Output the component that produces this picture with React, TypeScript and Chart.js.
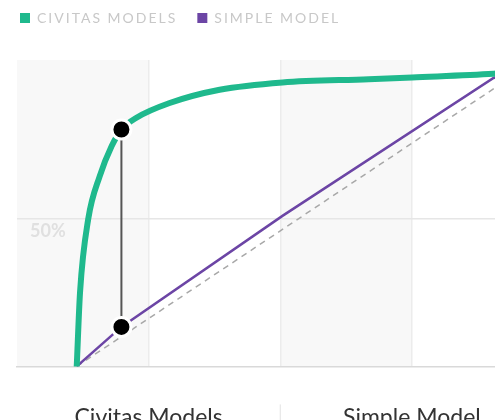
import React, { useEffect, useRef } from 'react';
import { Chart, registerables } from 'chart.js';

Chart.register(...registerables);

// ---- data ----
const SERIES_NAMES = ['Civitas Models', 'Simple Model'];
const LEGEND_LABELS = ['CIVITAS MODELS', 'SIMPLE MODEL'];
const BOTTOM_LABELS = ['Civitas Models', 'Simple Model'];

const CIVITAS_X = [0, 0.0075, 0.026, 0.052, 0.079, 0.101, 0.135, 0.21, 0.323, 0.465, 0.66, 0.758, 0.942, 1];
const CIVITAS_Y = [0, 0.252, 0.5, 0.646, 0.748, 0.804, 0.844, 0.894, 0.939, 0.964, 0.975, 0.981, 0.993, 1];

const SIMPLE_X = [0, 0.101, 0.465, 0.942, 1];
const SIMPLE_Y = [0, 0.134, 0.511, 0.979, 1];

const BASELINE_X = [0, 1];
const BASELINE_Y = [0, 1];

const MARKER_X = [0.101, 0.101];
const MARKER_Y = [0.134, 0.804];

const Y_TICKS = [0.5];
const Y_TICK_LABELS = ['50%'];
const X_GRID = [0.163, 0.46, 0.757];
const X_MIN = -0.135;
const X_MAX = 1.055;
const Y_MIN = 0;
const Y_MAX = 1.04;

// ---- styles ----
const GREEN = '#1fb98d';
const PURPLE = '#6c45a5';
const LEGEND_SPACING = '2px';
const LEGEND_EXTRA = 25;

const zip = (xs: number[], ys: number[]) => xs.map((x, i) => ({ x, y: ys[i] }));

const chromePlugin = {
  id: 'chrome',
  beforeInit(chart: any) {
    const legend = chart.legend;
    if (legend) {
      const fit = legend.fit;
      legend.fit = function (...a: any[]) {
        const prev = this.ctx.letterSpacing;
        this.ctx.letterSpacing = LEGEND_SPACING;
        fit.apply(this, a);
        this.ctx.letterSpacing = prev || '0px';
        this.height += LEGEND_EXTRA;
      };
      const draw = legend.draw;
      legend.draw = function (...a: any[]) {
        const prev = this.ctx.letterSpacing;
        this.ctx.letterSpacing = LEGEND_SPACING;
        draw.apply(this, a);
        this.ctx.letterSpacing = prev || '0px';
      };
    }
  },
  beforeDraw(chart: any) {
    const { ctx, chartArea } = chart;
    const xs = chart.scales.x;
    const edges = [X_MIN, ...X_GRID, X_MAX];
    ctx.save();
    ctx.fillStyle = '#f8f8f8';
    for (let i = 0; i < edges.length - 1; i += 2) {
      const a = xs.getPixelForValue(edges[i]);
      const b = xs.getPixelForValue(edges[i + 1]);
      ctx.fillRect(a, chartArea.top, b - a, chartArea.bottom - chartArea.top);
    }
    ctx.restore();
  },
  afterDraw(chart: any) {
    const { ctx } = chart;
    const xc = chart.scales.xc;
    if (!xc) return;
    const mid = (xc.getPixelForTick(0) + xc.getPixelForTick(1)) / 2;
    ctx.save();
    ctx.strokeStyle = '#e2e2e2';
    ctx.lineWidth = 1;
    ctx.beginPath();
    ctx.moveTo(mid, xc.top + 38);
    ctx.lineTo(mid, xc.top + 72);
    ctx.stroke();
    ctx.restore();
  },
};

export default function App() {
  const ref = useRef<HTMLCanvasElement | null>(null);

  useEffect(() => {
    if (!ref.current) return;
    Chart.defaults.font.family = 'Lato';
    const chart = new Chart(ref.current, {
      type: 'line',
      data: {
        datasets: [
          {
            label: 'marker',
            data: zip(MARKER_X, MARKER_Y),
            borderColor: '#555555',
            borderWidth: 2,
            pointRadius: 9.5,
            pointBorderWidth: 3,
            pointBorderColor: '#ffffff',
            pointBackgroundColor: '#000000',
            tension: 0,
            order: 0,
            xAxisID: 'x',
            yAxisID: 'y',
          },
          {
            label: SERIES_NAMES[0],
            data: zip(CIVITAS_X, CIVITAS_Y),
            borderColor: GREEN,
            backgroundColor: GREEN,
            borderWidth: 6,
            borderCapStyle: 'round',
            borderJoinStyle: 'round',
            pointRadius: 0,
            cubicInterpolationMode: 'monotone',
            order: 1,
            xAxisID: 'x',
            yAxisID: 'y',
          },
          {
            label: SERIES_NAMES[1],
            data: zip(SIMPLE_X, SIMPLE_Y),
            borderColor: PURPLE,
            backgroundColor: PURPLE,
            borderWidth: 2.5,
            pointRadius: 0,
            tension: 0,
            order: 2,
            xAxisID: 'x',
            yAxisID: 'y',
          },
          {
            label: 'baseline',
            data: zip(BASELINE_X, BASELINE_Y),
            borderColor: '#a8a8a8',
            borderWidth: 1.5,
            borderDash: [6, 5],
            pointRadius: 0,
            tension: 0,
            order: 3,
            xAxisID: 'x',
            yAxisID: 'y',
          },
        ],
      } as any,
      options: {
        animation: false,
        responsive: false,
        events: [],
        layout: { padding: { top: -9, left: 0, right: 0, bottom: 0 } },
        plugins: {
          tooltip: { enabled: false },
          legend: {
            display: true,
            position: 'top',
            align: 'start',
            labels: {
              boxWidth: 10,
              boxHeight: 10,
              padding: 20,
              color: '#c8c8c8',
              font: { family: 'Lato', size: 14 },
              generateLabels: (c: any) =>
                [1, 2].map((di, i) => ({
                  text: LEGEND_LABELS[i],
                  fillStyle: c.data.datasets[di].borderColor,
                  strokeStyle: 'rgba(0,0,0,0)',
                  lineWidth: 0,
                  hidden: false,
                  datasetIndex: di,
                  fontColor: '#c8c8c8',
                })),
            },
          },
        },
        scales: {
          x: {
            type: 'linear',
            position: 'bottom',
            min: X_MIN,
            max: X_MAX,
            afterBuildTicks: (s: any) => {
              s.ticks = X_GRID.map((v) => ({ value: v }));
            },
            ticks: { display: false },
            grid: { color: '#ececec', lineWidth: 1.5, drawTicks: false },
            border: { display: true, color: '#d9d9d9', width: 1.5 },
          },
          xc: {
            type: 'category',
            position: 'bottom',
            labels: BOTTOM_LABELS,
            offset: true,
            grid: { display: false, drawTicks: false },
            border: { display: false },
            ticks: { color: '#333333', font: { family: 'Lato', size: 23 }, padding: 37, autoSkip: false, maxRotation: 0 },
          },
          y: {
            type: 'linear',
            position: 'left',
            min: Y_MIN,
            max: Y_MAX,
            afterBuildTicks: (s: any) => {
              s.ticks = Y_TICKS.map((v) => ({ value: v }));
            },
            afterFit: (s: any) => {
              s.width = 17;
            },
            ticks: {
              mirror: true,
              padding: 13,
              labelOffset: 12,
              color: '#e0e0e0',
              font: { family: 'Lato', size: 18, weight: 'bold' },
              callback: (v: any) => {
                const i = Y_TICKS.indexOf(Number(v));
                return i >= 0 ? Y_TICK_LABELS[i] : '';
              },
            },
            grid: { color: '#e6e6e6', lineWidth: 1.5, drawTicks: false },
            border: { display: false },
          },
        },
      } as any,
      plugins: [chromePlugin],
    });
    return () => chart.destroy();
  }, []);

  return (
    <div style={{ position: 'fixed', left: 0, top: 0, width: 495, height: 420, overflow: 'hidden', background: '#fff' }}>
      <canvas ref={ref} width={556} height={468} style={{ display: 'block', width: 556, height: 468 }} />
    </div>
  );
}
